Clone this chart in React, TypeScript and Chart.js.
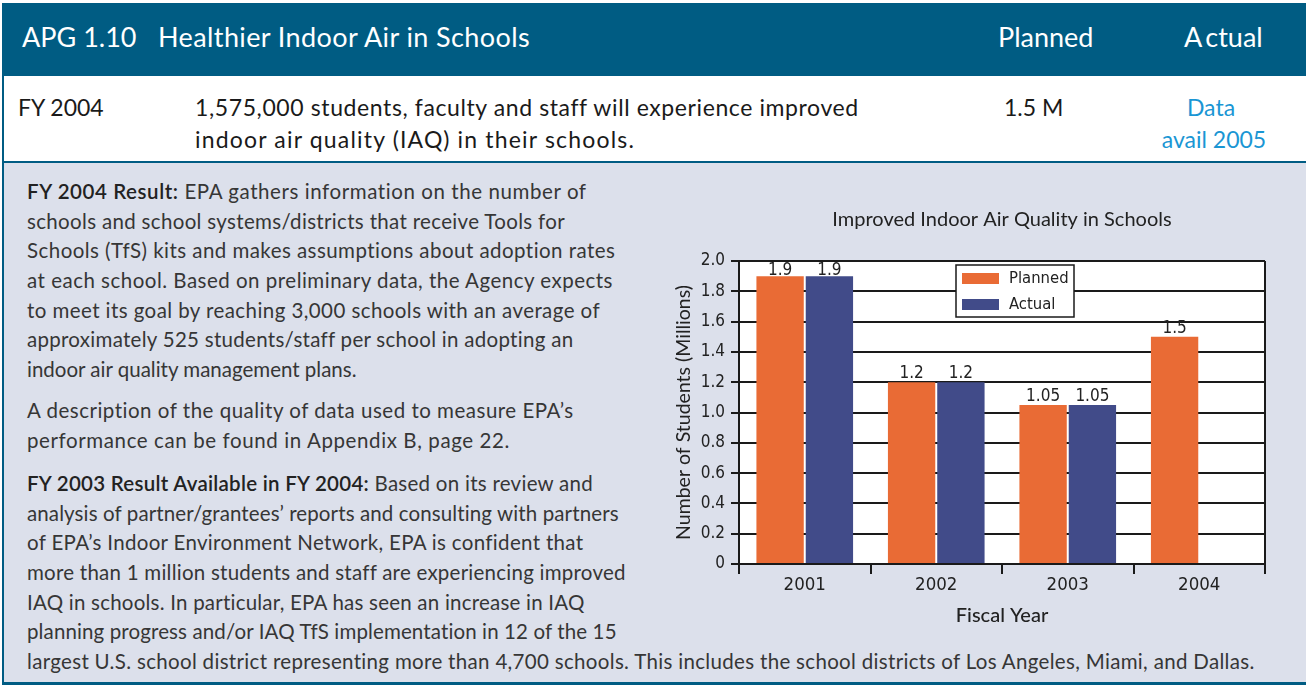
import React, { useEffect, useLayoutEffect, useRef } from "react";
import { Chart, registerables } from "chart.js";
Chart.register(...registerables);

const categories = ["2001", "2002", "2003", "2004"];
const plannedValues: (number | null)[] = [1.9, 1.2, 1.05, 1.5];
const actualValues: (number | null)[] = [1.9, 1.2, 1.05, null];
const seriesNames = ["Planned", "Actual"];
const chartTitle = "Improved Indoor Air Quality in Schools";
const yAxisTitle = "Number of Students (Millions)";
const xAxisTitle = "Fiscal Year";
const yMin = 0;
const yMax = 2.0;
const yStep = 0.2;

const ORANGE = "#e96b35";
const NAVY = "#414b89";
const HEADER_BLUE = "#005c83";
const BODY_BG = "#dce0eb";
const GILL = "Lato, 'Open Sans', sans-serif";
const NUM = "'Liberation Sans Narrow', 'Arial Narrow', 'DejaVu Sans Condensed', sans-serif";

const para1 = [
  "schools and school systems/districts that receive Tools for",
  "Schools (TfS) kits and makes assumptions about adoption rates",
  "at each school. Based on preliminary data, the Agency expects",
  "to meet its goal by reaching 3,000 schools with an average of",
  "approximately 525 students/staff per school in adopting an",
  "indoor air quality management plans.",
];
const para1Ends = [565, 616, 613, 600, 573, 0];
const para2 = [
  "A description of the quality of data used to measure EPA\u2019s",
  "performance can be found in Appendix B, page 22.",
];
const para2Ends = [574, 510];
const para3 = [
  "analysis of partner/grantees\u2019 reports and consulting with partners",
  "of EPA\u2019s Indoor Environment Network, EPA is confident that",
  "more than 1 million students and staff are experiencing improved",
  "IAQ in schools. In particular, EPA has seen an increase in IAQ",
  "planning progress and/or IAQ TfS implementation in 12 of the 15",
  "largest U.S. school district representing more than 4,700 schools. This includes the school districts of Los Angeles, Miami, and Dallas.",
];
const para3Ends = [619, 583, 625, 585, 617, 1255];

function T(props: {
  x: number;
  y: number;
  size: number;
  color?: string;
  center?: boolean;
  lh?: number;
  weight?: number;
  right?: number;
  children: React.ReactNode;
}) {
  const lh = props.lh ?? props.size * 1.4;
  const r = useRef<HTMLDivElement | null>(null);
  useLayoutEffect(() => {
    const el = r.current;
    if (!el || !props.right) return;
    const fit = () => {
      el.style.letterSpacing = "0px";
      const w = el.getBoundingClientRect().width;
      const n = (el.textContent || "").length;
      const target = (props.right as number) - props.x;
      el.style.letterSpacing = (target - w) / n + "px";
    };
    fit();
    const f: any = (document as any).fonts;
    if (f && f.ready) f.ready.then(fit);
  }, []);
  return (
    <div
      ref={r}
      style={{
        position: "absolute",
        left: props.x,
        top: props.y - lh / 2,
        lineHeight: lh + "px",
        fontSize: props.size,
        fontFamily: GILL,
        fontWeight: props.weight ?? 400,
        color: props.color ?? "#363636",
        whiteSpace: "nowrap",
        transform: props.center ? "translateX(-50%)" : undefined,
      }}
    >
      {props.children}
    </div>
  );
}

function BarChart() {
  const ref = useRef<HTMLCanvasElement | null>(null);
  useEffect(() => {
    if (!ref.current) return;
    const plotBg = {
      id: "plotBg",
      beforeDraw(chart: any) {
        const { ctx, chartArea: a } = chart;
        ctx.save();
        ctx.fillStyle = "#ffffff";
        ctx.fillRect(a.left, a.top, a.right - a.left, a.bottom - a.top);
        ctx.restore();
      },
    };
    const extras = {
      id: "extras",
      afterDatasetsDraw(chart: any) {
        const { ctx, chartArea: a } = chart;
        ctx.save();
        ctx.font = `17px ${NUM}`;
        ctx.fillStyle = "#222";
        ctx.textAlign = "center";
        ctx.textBaseline = "alphabetic";
        chart.data.datasets.forEach((ds: any, i: number) => {
          const meta = chart.getDatasetMeta(i);
          meta.data.forEach((el: any, j: number) => {
            const v = ds.data[j];
            if (v === null || v === undefined) return;
            const y = Math.max(el.y - 4, a.top + 14);
            ctx.fillText(String(v), el.x, y);
          });
        });
        ctx.restore();
      },
      afterDraw(chart: any) {
        const { ctx, chartArea: a } = chart;
        ctx.save();
        ctx.strokeStyle = "#1a1a1a";
        ctx.lineWidth = 2;
        ctx.beginPath();
        ctx.moveTo(a.right, a.top);
        ctx.lineTo(a.right, a.bottom);
        ctx.stroke();
        ctx.font = `20px ${GILL}`;
        ctx.fillStyle = "#222";
        ctx.textAlign = "center";
        ctx.textBaseline = "middle";
        ctx.fillText(chartTitle, (a.left + a.right) / 2, a.top - 41);
        const lx = a.left + 217;
        const ly = a.top + 4;
        const lw = 118;
        const lh = 52;
        ctx.fillStyle = "#fff";
        ctx.fillRect(lx, ly, lw, lh);
        ctx.strokeStyle = "#1a1a1a";
        ctx.lineWidth = 1.5;
        ctx.strokeRect(lx, ly, lw, lh);
        const colors = [ORANGE, NAVY];
        ctx.font = `16.5px ${NUM}`;
        ctx.textAlign = "left";
        seriesNames.forEach((name, i) => {
          const sy = ly + 8 + i * 26;
          ctx.fillStyle = colors[i];
          ctx.fillRect(lx + 6, sy, 37, 11);
          ctx.fillStyle = "#222";
          ctx.fillText(name, lx + 53, sy + 6);
        });
        ctx.restore();
      },
    };
    const chart = new Chart(ref.current, {
      type: "bar",
      data: {
        labels: categories,
        datasets: [
          {
            label: seriesNames[0],
            data: plannedValues,
            backgroundColor: ORANGE,
            categoryPercentage: 0.75,
            barPercentage: 0.96,
          },
          {
            label: seriesNames[1],
            data: actualValues,
            backgroundColor: NAVY,
            categoryPercentage: 0.75,
            barPercentage: 0.96,
          },
        ],
      },
      options: {
        animation: false,
        responsive: false,
        devicePixelRatio: 1,
        layout: { padding: { top: 61, right: 25, bottom: 0, left: 0 } },
        plugins: {
          legend: { display: false },
          tooltip: { enabled: false },
          title: { display: false },
        },
        scales: {
          x: {
            afterFit: (s: any) => {
              s.height = 76;
            },
            grid: {
              display: true,
              drawOnChartArea: false,
              drawTicks: true,
              tickLength: 10,
              color: "#1a1a1a",
              lineWidth: 2,
              offset: true,
            },
            border: { display: true, color: "#1a1a1a", width: 2 },
            ticks: {
              font: { family: NUM, size: 18.5 },
              color: "#222",
              padding: 0,
            },
            title: {
              display: true,
              text: xAxisTitle,
              font: { family: GILL, size: 20, weight: "500" },
              color: "#222",
              padding: { top: 0, bottom: 12 },
            },
          },
          y: {
            min: yMin,
            max: yMax,
            afterFit: (s: any) => {
              s.width = 89;
            },
            grid: {
              color: "#1a1a1a",
              lineWidth: 2,
              tickLength: 8,
              drawTicks: true,
            },
            border: { display: true, color: "#1a1a1a", width: 2 },
            ticks: {
              stepSize: yStep,
              font: { family: NUM, size: 17 },
              color: "#222",
              padding: 6,
              callback: (v: any) => (Number(v) === 0 ? "0" : Number(v).toFixed(1)),
            },
            title: {
              display: true,
              text: yAxisTitle,
              font: { family: GILL, size: 19.5 },
              color: "#222",
              padding: { top: 22, bottom: 0 },
            },
          },
        },
      },
      plugins: [plotBg, extras],
    } as any);
    return () => chart.destroy();
  }, []);
  return (
    <canvas
      ref={ref}
      width={640}
      height={440}
      style={{ position: "absolute", left: 650, top: 200, width: 640, height: 440 }}
    />
  );
}

export default function App() {
  const bodySize = 20.5;
  const LH = 29.6;
  const boldStyle = { fontWeight: 600, color: "#222" };
  return (
    <div
      style={{
        position: "absolute",
        left: 0,
        top: 0,
        width: 1306,
        height: 686,
        background: "#ffffff",
        overflow: "hidden",
      }}
    >
      <div style={{ position: "absolute", left: 2, top: 3, width: 1304, height: 73, background: HEADER_BLUE }} />
      <div style={{ position: "absolute", left: 2, top: 76, width: 2, height: 607, background: HEADER_BLUE }} />
      <div style={{ position: "absolute", left: 2, top: 161, width: 1304, height: 2, background: HEADER_BLUE }} />
      <div style={{ position: "absolute", left: 4, top: 163, width: 1302, height: 519, background: BODY_BG }} />
      <div style={{ position: "absolute", left: 2, top: 682, width: 1304, height: 3, background: HEADER_BLUE }} />

      <T x={22} y={37} size={27} color="#fff">APG 1.10</T>
      <T x={158} y={37} size={27} color="#fff" right={530}>Healthier Indoor Air in Schools</T>
      <T x={998} y={37} size={27} color="#fff">Planned</T>
      <T x={1184} y={37} size={27} color="#fff">
        <span style={{ marginRight: 3 }}>A</span>ctual
      </T>

      <T x={18} y={107} size={23} color="#1a1a1a">FY 2004</T>
      <T x={195} y={107} size={23} color="#1a1a1a" right={858}>
        1,575,000 students, faculty and staff will experience improved
      </T>
      <T x={195} y={139} size={23} color="#1a1a1a" right={635}>
        indoor air quality (IAQ) in their schools.
      </T>
      <T x={1004} y={107} size={23} color="#1a1a1a">1.5 M</T>
      <T x={1211} y={107} size={23} color="#1a96d4" center>Data</T>
      <T x={1214} y={139} size={23} color="#1a96d4" center>avail 2005</T>

      <T x={27} y={192} size={bodySize} lh={LH} right={587}>
        <span style={boldStyle}>FY 2004 Result:</span> EPA gathers information on the number of
      </T>
      {para1.map((s, i) => (
        <T key={"p1" + i} x={27} y={192 + LH * (i + 1)} size={bodySize} lh={LH} right={para1Ends[i] || undefined}>
          {s}
        </T>
      ))}
      {para2.map((s, i) => (
        <T key={"p2" + i} x={27} y={411 + LH * i} size={bodySize} lh={LH} right={para2Ends[i]}>
          {s}
        </T>
      ))}
      <T x={27} y={484} size={bodySize} lh={LH} right={593}>
        <span style={boldStyle}>FY 2003 Result Available in FY 2004:</span> Based on its review and
      </T>
      {para3.map((s, i) => (
        <T key={"p3" + i} x={27} y={484 + LH * (i + 1)} size={bodySize} lh={LH} right={para3Ends[i]}>
          {s}
        </T>
      ))}

      <BarChart />
    </div>
  );
}
